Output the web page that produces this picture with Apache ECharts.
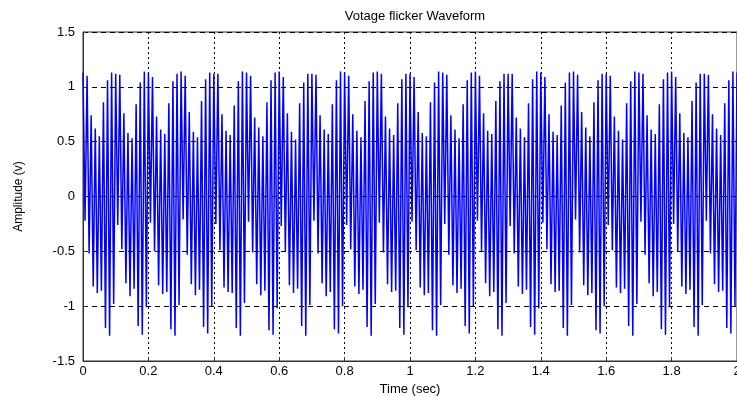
<!DOCTYPE html>
<html>
<head>
<meta charset="utf-8">
<script src="https://cdn.jsdelivr.net/npm/echarts@6/dist/echarts.min.js"></script>
<style>html,body{margin:0;padding:0;background:#fff;}#c{width:737px;height:397px;}</style>
</head>
<body>
<div id="c"></div>
<script>
var title = 'Votage flicker Waveform';
var xName = 'Time (sec)';
var yName = 'Amplitude (v)';
var xTicks = [0, 0.2, 0.4, 0.6, 0.8, 1, 1.2, 1.4, 1.6, 1.8, 2];
var yTicks = [-1.5, -1, -0.5, 0, 0.5, 1, 1.5];
var sampleStep = 0.00625; // seconds between read samples
// amplitude samples, one row per 0.1 s
var amplitude = [
  1.13,-0.22,1.10,-0.52,0.74,-0.82,0.62,-0.88,0.55,-0.86,0.86,-1.20,1.06,-1.27,1.13,-0.98,
  1.12,-0.26,1.11,-0.48,0.76,-0.79,0.58,-0.91,0.53,-0.84,0.84,-1.18,1.04,-1.26,1.14,-1.01,
  1.13,-0.24,1.09,-0.50,0.73,-0.81,0.61,-0.89,0.57,-0.87,0.85,-1.21,1.05,-1.27,1.12,-0.99,
  1.14,-0.21,1.10,-0.53,0.77,-0.80,0.59,-0.90,0.54,-0.85,0.87,-1.19,1.07,-1.25,1.13,-1.00,
  1.12,-0.25,1.12,-0.49,0.75,-0.83,0.60,-0.87,0.56,-0.88,0.83,-1.20,1.05,-1.27,1.14,-0.97,
  1.13,-0.23,1.10,-0.51,0.72,-0.80,0.63,-0.90,0.55,-0.86,0.86,-1.22,1.06,-1.26,1.13,-1.02,
  1.14,-0.27,1.09,-0.50,0.76,-0.81,0.59,-0.88,0.52,-0.84,0.85,-1.18,1.04,-1.27,1.12,-0.99,
  1.12,-0.22,1.11,-0.52,0.74,-0.79,0.61,-0.91,0.57,-0.87,0.84,-1.21,1.06,-1.25,1.14,-1.00,
  1.13,-0.26,1.10,-0.48,0.75,-0.82,0.60,-0.89,0.54,-0.85,0.87,-1.19,1.05,-1.27,1.13,-0.98,
  1.14,-0.24,1.12,-0.51,0.73,-0.80,0.62,-0.87,0.56,-0.86,0.85,-1.20,1.07,-1.26,1.12,-1.01,
  1.12,-0.23,1.09,-0.49,0.77,-0.83,0.58,-0.90,0.55,-0.88,0.86,-1.22,1.04,-1.27,1.14,-0.99,
  1.13,-0.25,1.11,-0.53,0.74,-0.81,0.61,-0.88,0.53,-0.84,0.84,-1.18,1.06,-1.25,1.13,-1.00,
  1.14,-0.22,1.10,-0.50,0.76,-0.79,0.60,-0.91,0.57,-0.87,0.87,-1.21,1.05,-1.27,1.12,-0.97,
  1.12,-0.27,1.12,-0.52,0.72,-0.82,0.62,-0.89,0.54,-0.85,0.85,-1.19,1.07,-1.26,1.14,-1.02,
  1.13,-0.24,1.09,-0.48,0.75,-0.80,0.59,-0.87,0.56,-0.86,0.83,-1.20,1.04,-1.27,1.13,-0.99,
  1.14,-0.21,1.11,-0.51,0.77,-0.81,0.63,-0.90,0.55,-0.88,0.86,-1.22,1.06,-1.25,1.12,-1.00,
  1.12,-0.26,1.10,-0.49,0.73,-0.83,0.60,-0.88,0.52,-0.84,0.85,-1.18,1.05,-1.27,1.14,-0.98,
  1.13,-0.23,1.12,-0.53,0.74,-0.79,0.61,-0.91,0.57,-0.87,0.84,-1.21,1.07,-1.26,1.13,-1.01,
  1.14,-0.25,1.09,-0.50,0.76,-0.82,0.58,-0.89,0.54,-0.85,0.87,-1.19,1.04,-1.27,1.12,-0.99,
  1.12,-0.22,1.11,-0.52,0.75,-0.80,0.62,-0.87,0.56,-0.86,0.85,-1.20,1.06,-1.25,1.14,-1.00,
  1.13
];

var seriesData = amplitude.map(function (v, i) { return [+(i * sampleStep).toFixed(5), v]; });
var font = '"Liberation Sans", Arial, sans-serif';

var chart = echarts.init(document.getElementById('c'), null, {renderer: 'canvas'});
chart.setOption({
  animation: false,
  backgroundColor: '#ffffff',
  title: {
    text: title, left: 410, top: 5, textAlign: 'center',
    textStyle: {fontFamily: font, fontSize: 13, fontWeight: 'normal', color: '#000'}
  },
  grid: {left: 83, right: 0, top: 32, bottom: 36, show: true, borderColor: '#333', borderWidth: 1,
         containLabel: false, outerBoundsMode: 'none'},
  xAxis: {
    type: 'value', min: xTicks[0], max: xTicks[xTicks.length - 1], interval: 0.2,
    name: xName, nameLocation: 'middle', nameGap: 17,
    nameTextStyle: {fontFamily: font, fontSize: 13, color: '#000'},
    axisLine: {onZero: false, lineStyle: {color: '#333'}},
    axisTick: {inside: true, length: 4, lineStyle: {color: '#333'}},
    axisLabel: {fontFamily: font, fontSize: 13, color: '#000', margin: 4, hideOverlap: false},
    splitLine: {show: true, lineStyle: {color: '#000', type: [2, 3], width: 1}}
  },
  yAxis: {
    type: 'value', min: yTicks[0], max: yTicks[yTicks.length - 1], interval: 0.5,
    name: yName, nameLocation: 'middle', nameGap: 58, nameRotate: 90,
    nameTextStyle: {fontFamily: font, fontSize: 12, color: '#000'},
    axisLine: {onZero: false, lineStyle: {color: '#333'}},
    axisTick: {inside: true, length: 4, lineStyle: {color: '#333'}},
    axisLabel: {fontFamily: font, fontSize: 13, color: '#000', margin: 8},
    splitLine: {show: true, lineStyle: {color: '#000', type: [5, 4], width: 1}}
  },
  series: [{
    type: 'line', data: seriesData, showSymbol: false, symbol: 'none',
    lineStyle: {color: '#0000ff', width: 1.5}, z: 3
  }]
});
</script>
</body>
</html>
